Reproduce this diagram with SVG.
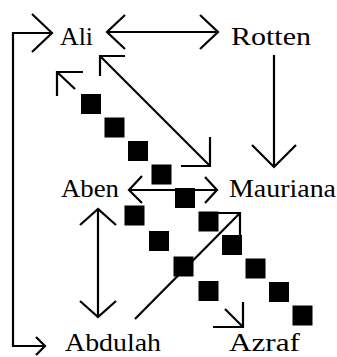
<svg xmlns="http://www.w3.org/2000/svg" width="337" height="357" viewBox="0 0 337 357">
<style>
text{font-family:"Liberation Serif","Times New Roman",Tinos,"DejaVu Serif",serif;font-size:26px;fill:#000}
.c line,.c polyline{stroke:#000;stroke-width:2.2;fill:none;stroke-linejoin:miter}
.sq rect{fill:#000}
</style>
<rect width="337" height="357" fill="#fff"/>
<g id="squares" class="sq">
<rect x="81" y="94" width="20" height="20"/>
<rect x="104.5" y="117.5" width="20" height="20"/>
<rect x="128" y="141" width="20" height="20"/>
<rect x="151.5" y="164.5" width="20" height="20"/>
<rect x="175" y="188" width="20" height="20"/>
<rect x="198.5" y="211.5" width="20" height="20"/>
<rect x="222" y="235" width="20" height="20"/>
<rect x="245.5" y="258.5" width="20" height="20"/>
<rect x="269" y="282" width="20" height="20"/>
<rect x="292.5" y="305.5" width="20" height="20"/>
<rect x="124.5" y="205.5" width="20" height="20"/>
<rect x="149" y="231" width="20" height="20"/>
<rect x="173.5" y="256.5" width="20" height="20"/>
<rect x="198.5" y="281" width="20" height="20"/>
</g>
<g id="connectors" class="c">
<line x1="107" y1="32" x2="218" y2="32"/>
<polyline points="125,15 107,32 125,49"/>
<polyline points="200,15 218,32 200,49"/>
<polyline points="52,33 13,33 13,346 45,346"/>
<polyline points="32,14 52,33 32,52"/>
<polyline points="36,337 45,346 36,355"/>
<line x1="57" y1="72" x2="75" y2="89"/>
<polyline points="83,72 57,72 57,96"/>
<line x1="100" y1="56" x2="210" y2="166"/>
<polyline points="125,56 100,56 100,76"/>
<polyline points="181,166 210,166 210,137"/>
<line x1="274" y1="55" x2="274" y2="167"/>
<polyline points="252,145 274,167 296,145"/>
<line x1="129" y1="190" x2="217" y2="190"/>
<polyline points="142,176 129,190 142,203"/>
<polyline points="205,177 217,190 205,203"/>
<line x1="98" y1="209" x2="98" y2="317"/>
<polyline points="80,225 98,209 116,225"/>
<polyline points="80,301 98,317 116,301"/>
<line x1="135" y1="319" x2="240" y2="213"/>
<polyline points="217,213 240,213 240,235"/>
<line x1="225" y1="309" x2="243" y2="327"/>
<polyline points="213,327 243,327 243,302"/>
</g>
<g id="ali"><text x="60" y="45" textLength="33" lengthAdjust="spacingAndGlyphs">Ali</text></g>
<g id="rotten"><text x="231" y="45" textLength="80" lengthAdjust="spacingAndGlyphs">Rotten</text></g>
<g id="aben"><text x="61" y="197" textLength="58" lengthAdjust="spacingAndGlyphs">Aben</text></g>
<g id="mauriana"><text x="229" y="197" textLength="107" lengthAdjust="spacingAndGlyphs">Mauriana</text></g>
<g id="abdulah"><text x="65" y="351" textLength="96" lengthAdjust="spacingAndGlyphs">Abdulah</text></g>
<g id="azraf"><text x="229" y="351" textLength="71" lengthAdjust="spacingAndGlyphs">Azraf</text></g>
</svg>
